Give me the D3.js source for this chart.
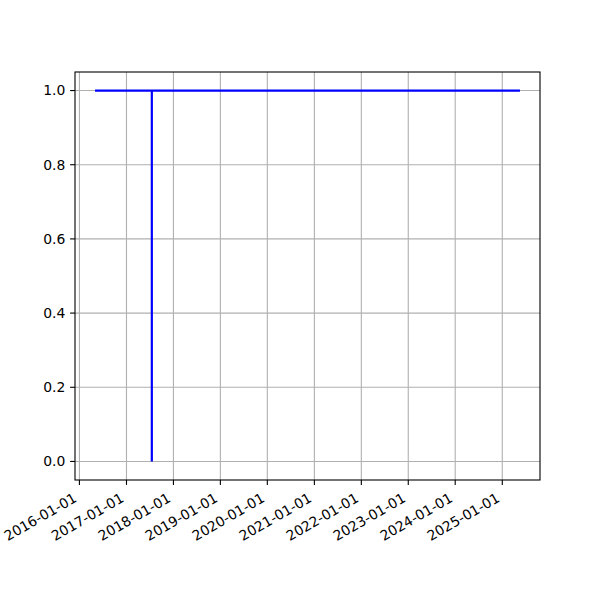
<!DOCTYPE html>
<html><head><meta charset="utf-8">
<script src="https://cdn.jsdelivr.net/npm/d3@7"></script>
<style>body{margin:0;background:#fff}svg{display:block}text{font-family:"DejaVu Sans",sans-serif;}</style>
</head><body><div id="chart"></div>
<script>
const dates = ["2016-05-10", "2017-07-17", "2017-07-17", "2017-07-17", "2025-05-10"];
const values = [1, 1, 0, 1, 1];
const xTickLabels = ["2016-01-01","2017-01-01","2018-01-01","2019-01-01","2020-01-01","2021-01-01","2022-01-01","2023-01-01","2024-01-01","2025-01-01"];
const yTicks = [0.0, 0.2, 0.4, 0.6, 0.8, 1.0];

const W = 600, H = 600;
const m = {left: 75, right: 540, top: 72, bottom: 480};
const parse = d3.utcParse("%Y-%m-%d");
const data = dates.map((d, i) => ({t: parse(d), v: values[i]}));

const t0 = +data[0].t, t1 = +data[data.length - 1].t, span = t1 - t0;
const x = d3.scaleUtc().domain([new Date(t0 - 0.05 * span), new Date(t1 + 0.05 * span)]).range([m.left, m.right]);
const y = d3.scaleLinear().domain([-0.05, 1.05]).range([m.bottom, m.top]);

const svg = d3.select("#chart").append("svg").attr("width", W).attr("height", H);
svg.append("rect").attr("width", W).attr("height", H).attr("fill", "#fff");

const fs = 13.9;
const xt = xTickLabels.map(s => ({d: parse(s), s}));

// grid
const g = svg.append("g");
g.selectAll(".gx").data(xt).enter().append("line")
  .attr("x1", d => x(d.d)).attr("x2", d => x(d.d)).attr("y1", m.top).attr("y2", m.bottom)
  .attr("stroke", "#b0b0b0").attr("stroke-width", 1.1);
g.selectAll(".gy").data(yTicks).enter().append("line")
  .attr("y1", d => y(d)).attr("y2", d => y(d)).attr("x1", m.left).attr("x2", m.right)
  .attr("stroke", "#b0b0b0").attr("stroke-width", 1.1);

// line
const line = d3.line().x(d => x(d.t)).y(d => y(d.v));
svg.append("path").datum(data).attr("d", line).attr("fill", "none")
  .attr("stroke", "#0000ff").attr("stroke-width", 2.2).attr("stroke-linecap", "square").attr("stroke-linejoin", "miter");

// frame
svg.append("rect").attr("x", m.left).attr("y", m.top).attr("width", m.right - m.left).attr("height", m.bottom - m.top)
  .attr("fill", "none").attr("stroke", "#000").attr("stroke-width", 1.1);

// x ticks
const ax = svg.append("g");
ax.selectAll(".tx").data(xt).enter().append("line")
  .attr("x1", d => x(d.d)).attr("x2", d => x(d.d)).attr("y1", m.bottom).attr("y2", m.bottom + 4.9)
  .attr("stroke", "#000").attr("stroke-width", 1.1);
ax.selectAll(".lx").data(xt).enter().append("text")
  .attr("transform", d => `translate(${x(d.d)},${m.bottom + 9.7 + 16.2 * Math.cos(Math.PI / 6)}) rotate(-30)`)
  .attr("x", 0).attr("y", -3.3).attr("text-anchor", "end").attr("font-size", fs).attr("fill", "#000")
  .text(d => d.s);

// y ticks
const ay = svg.append("g");
ay.selectAll(".ty").data(yTicks).enter().append("line")
  .attr("y1", d => y(d)).attr("y2", d => y(d)).attr("x1", m.left - 4.9).attr("x2", m.left)
  .attr("stroke", "#000").attr("stroke-width", 1.1);
ay.selectAll(".ly").data(yTicks).enter().append("text")
  .attr("x", m.left - 9.7).attr("y", d => y(d)).attr("dy", "0.35em").attr("text-anchor", "end")
  .attr("font-size", fs).attr("fill", "#000").text(d => d3.format(".1f")(d));
</script></body></html>
